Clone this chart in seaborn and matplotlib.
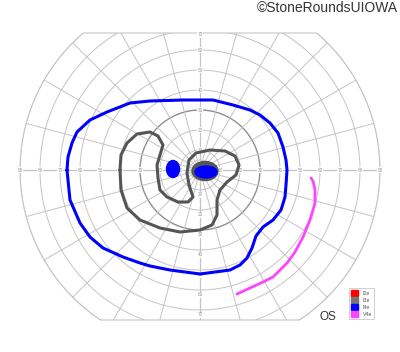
import numpy as np
import matplotlib
matplotlib.use("Agg")
import matplotlib.pyplot as plt
from matplotlib.patches import Polygon, Ellipse, Patch
import seaborn as sns

sns.set_theme(style="white")
plt.rcParams['font.family'] = ['Liberation Sans', 'DejaVu Sans']

# ---- data (visual field degrees; x: + right, y: + up) ----
i4e_x = [-66.5, -65, -60, -55, -48.5, -38.5, -30, -25, -15, 0, 15, 20, 23.5, 26, 28, 31.5, 36.5, 40.5, 42.5, 43, 43.5,
         43, 41.5, 39, 35, 30, 25, 16.5, 6.5, -8.5, -25, -35, -46.5, -55, -61.5, -64, -66, -66.5]
i4e_y = [0, -15, -26.5, -33.5, -39, -43.5, -46.5, -48, -50, -52, -50, -47.5, -44, -39, -33, -28.5, -25, -20, -13.5, -7.5, 0,
         5, 11.5, 18.5, 23.5, 27.5, 30, 32.5, 35, 35, 34.5, 33.5, 29, 25, 19, 13.5, 6.5, 0]

i3e_x = [-40, -39.5, -36.5, -31.5, -25, -21, -18.5, -20, -21.5, -21, -20, -16.5, -11, -6, -3.5, -5.5, -6.5, -5.5, -2, 5,
         12.5, 17.5, 19.5, 18, 13.5, 10, 8.5, 8.5, 6, 0, -10, -20, -30, -36.5, -39.5, -40]
i3e_y = [0, 7.5, 13.5, 18, 19, 17, 12.5, 7.5, 2.5, -4, -10, -13.5, -16, -16, -13.5, -7.5, -1.5, 5, 8.5, 10,
         9.5, 7, 2.5, -2.5, -6, -10, -15, -22.5, -27.5, -30, -31, -29, -25, -19, -10, 0]

v4e_x = [55.5, 56.5, 57.5, 57.5, 55, 51.5, 47.5, 43.5, 36.5, 31.5, 25, 18.5]
v4e_y = [-4, -5.5, -10, -16.5, -25, -33.5, -41, -46.5, -53.5, -56, -59, -62]

# scotoma / central spots: centre x, centre y, width, height
spot_labels = ["I4e blind spot", "I3e centre", "I4e centre"]
spot_cx = [-13.5, 2.5, 3]
spot_cy = [0.5, -0.5, -1]
spot_w = [6.5, 13, 11]
spot_h = [8.5, 9.5, 6]

legend_labels = ["I2e", "I3e", "I4e", "V4e"]
h_ticks = [90, 80, 70, 60, 50, 40, 30, 20, 10]
v_ticks = [70, 60, 50, 40, 30, 20, 10]

# ---- styling ----
C_I2E = "#ff0000"
C_I3E = "#555555"
C_I4E = "#0000ff"
C_V4E = "#ff44ff"
GRID = "#c4c4c4"

fig = plt.figure(figsize=(4.0, 3.52), dpi=100)
ax = fig.add_axes([0, 0, 1, 1])
ax.set_xlim(-100, 100)
ax.set_ylim(-91, 85)
ax.axis("off")

R = 90
TOP, BOT = 68.5, -75
t = np.linspace(0, 2 * np.pi, 721)
bx, by = R * np.cos(t), R * np.sin(t)
by = np.clip(by, BOT, TOP)
clip = Polygon(np.column_stack([bx, by]), closed=True, transform=ax.transData, fill=False, lw=0)
ax.add_patch(clip)
clip.set_visible(False)

# boundary
ax.plot(bx, by, color=GRID, lw=0.8, zorder=1)

# circles
for r in range(10, 100, 10):
    col = "#8f8f8f" if r == 30 else GRID
    lw = 1.0 if r == 30 else 0.7
    ln, = ax.plot(r * np.cos(t), r * np.sin(t), color=col, lw=lw, zorder=1)
    ln.set_clip_path(clip)
ax.plot(5 * np.cos(t), 5 * np.sin(t), color=GRID, lw=0.6, zorder=1)

# meridians
for a in range(0, 360, 15):
    ar = np.deg2rad(a)
    lw = 0.9 if a % 90 == 0 else 0.7
    ln, = ax.plot([0, 100 * np.cos(ar)], [0, 100 * np.sin(ar)], color=GRID, lw=lw, zorder=1)
    ln.set_clip_path(clip)

# tick labels
for v in h_ticks:
    for s in (-1, 1):
        ax.text(s * v, 0, str(v), fontsize=3.4, color="#999999", ha="center", va="center", zorder=2,
                bbox=dict(fc="white", ec="none", pad=0.2))
for v in v_ticks:
    ax.text(0, v if v < 70 else 67.5, str(v), fontsize=3.4, color="#999999", ha="center", va="center", zorder=2,
            bbox=dict(fc="white", ec="none", pad=0.2))
    ax.text(0, -v - 2.5, str(v), fontsize=3.4, color="#999999", ha="center", va="center", zorder=2,
            bbox=dict(fc="white", ec="none", pad=0.2))

# spots
spot_cols = [C_I4E, C_I3E, C_I4E]
for cx, cy, w, h, c in zip(spot_cx, spot_cy, spot_w, spot_h, spot_cols):
    ax.add_patch(Ellipse((cx, cy), w, h, color=c, zorder=4))

# isopters
sns.lineplot(x=i3e_x, y=i3e_y, sort=False, estimator=None, color=C_I3E, lw=2.2, ax=ax, zorder=3)
sns.lineplot(x=i4e_x, y=i4e_y, sort=False, estimator=None, color=C_I4E, lw=2.2, ax=ax, zorder=3)
sns.lineplot(x=v4e_x, y=v4e_y, sort=False, estimator=None, color=C_V4E, lw=2.0, ax=ax, zorder=3)

# legend
handles = [Patch(color=c) for c in [C_I2E, "#777777", C_I4E, C_V4E]]
leg = ax.legend(handles, legend_labels, loc="lower left", bbox_to_anchor=(346 / 400, 1 - 322 / 352),
                fontsize=3.8, handlelength=1.3, handleheight=1.3, handletextpad=1.0, labelspacing=0.25,
                borderpad=0.4, frameon=True, fancybox=False, edgecolor="#bbbbbb", labelcolor="#555555")
leg.get_frame().set_linewidth(0.6)

fig.text(328 / 400, 1 - 317 / 352, "OS", fontsize=8.5, color="#333333", ha="center", va="center")
fig.text(398 / 400, 1 - 8 / 352, "\u00a9StoneRoundsUIOWA", fontsize=10, color="#333333", ha="right", va="center")

fig.savefig("out.png", dpi=100)
